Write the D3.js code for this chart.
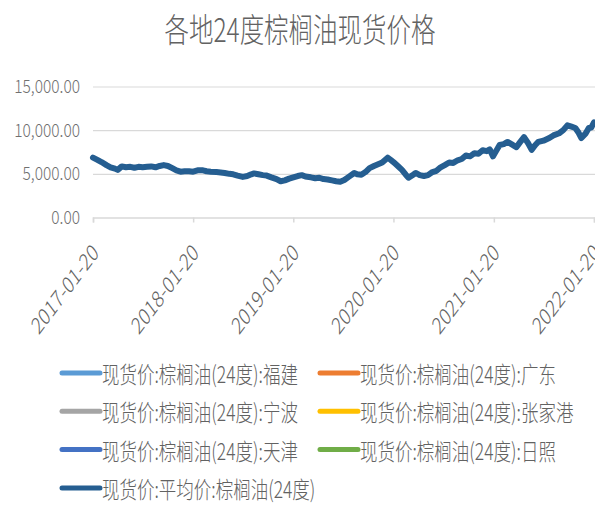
<!DOCTYPE html>
<html><head><meta charset="utf-8">
<script src="https://cdn.jsdelivr.net/npm/d3@7"></script>
<style>
html,body{margin:0;padding:0;background:#fff;}
svg{display:block;font-family:"Noto Sans CJK SC","Noto Sans",sans-serif;}
</style></head>
<body><svg id="c" width="595" height="521"></svg>
<script>
const title = "各地24度棕榈油现货价格";
const yTicks = [0, 5000, 10000, 15000];
const xTickDates = ["2017-01-20","2018-01-20","2019-01-20","2020-01-20","2021-01-20","2022-01-20"];
const seriesNames = [
  "现货价:棕榈油(24度):福建","现货价:棕榈油(24度):广东",
  "现货价:棕榈油(24度):宁波","现货价:棕榈油(24度):张家港",
  "现货价:棕榈油(24度):天津","现货价:棕榈油(24度):日照",
  "现货价:平均价:棕榈油(24度)"
];
const seriesColors = ["#5B9BD5","#ED7D31","#A5A5A5","#FFC000","#4472C4","#70AD47","#255E91"];
const avgDates = [
"2017-01-20","2017-02-05","2017-02-20","2017-03-10","2017-03-25","2017-04-10","2017-04-20","2017-05-05","2017-05-20","2017-06-05","2017-06-20","2017-07-05","2017-07-20","2017-08-05","2017-08-20","2017-09-05","2017-09-20","2017-10-05","2017-10-20","2017-11-05","2017-11-20","2017-12-05","2017-12-20",
"2018-01-05","2018-01-20","2018-02-05","2018-02-25","2018-03-10","2018-03-25","2018-04-15","2018-04-30","2018-05-15","2018-06-01","2018-06-15","2018-07-01","2018-07-20","2018-08-05","2018-08-20","2018-08-30","2018-09-15","2018-10-01","2018-10-15","2018-11-01","2018-11-20","2018-12-05","2018-12-20",
"2019-01-05","2019-01-20","2019-02-05","2019-02-20","2019-03-05","2019-03-25","2019-04-10","2019-04-25","2019-05-10","2019-05-25","2019-06-10","2019-06-25","2019-07-10","2019-07-25","2019-08-10","2019-08-30","2019-09-10","2019-09-25","2019-10-10","2019-10-25","2019-11-10","2019-11-25","2019-12-10","2019-12-30",
"2020-01-10","2020-01-20","2020-02-05","2020-02-20","2020-03-05","2020-03-15","2020-04-01","2020-04-10","2020-04-25","2020-05-10","2020-05-25","2020-06-10","2020-06-25","2020-07-10","2020-07-25","2020-08-10","2020-08-25","2020-09-10","2020-09-25","2020-10-10","2020-10-25","2020-11-10","2020-11-25","2020-12-10","2020-12-25",
"2021-01-05","2021-01-17","2021-01-28","2021-02-10","2021-02-25","2021-03-11","2021-03-25","2021-04-12","2021-04-25","2021-05-10","2021-05-25","2021-06-07","2021-06-20","2021-07-01","2021-07-20","2021-08-10","2021-08-25","2021-09-15","2021-09-30","2021-10-15","2021-10-30","2021-11-13","2021-11-25","2021-12-05","2021-12-20",
"2022-01-01","2022-01-10","2022-01-20"];
const avgValues = [
6850,6600,6350,6000,5750,5600,5450,5850,5750,5800,5700,5800,5750,5800,5850,5750,5900,6000,5900,5650,5400,5250,5300,
5300,5250,5400,5400,5300,5250,5200,5150,5100,5000,4950,4800,4650,4750,4950,5050,4950,4850,4800,4600,4400,4150,4250,
4450,4600,4750,4850,4700,4600,4500,4550,4400,4350,4250,4150,4100,4300,4650,5100,4950,4900,5200,5650,5900,6100,6300,6850,
6600,6350,5900,5450,4900,4550,4900,5100,4850,4750,4850,5200,5350,5750,6000,6300,6250,6550,6700,7100,7000,7350,7300,7700,7600,
7800,7000,7600,8300,8400,8650,8400,8050,8600,9200,8500,7750,8300,8650,8800,9100,9400,9650,10000,10550,10400,10250,9700,9100,9600,
10250,10300,10900];

const svg = d3.select("#c");
const parse = d3.timeParse("%Y-%m-%d");
const L = 93, R = 594, Y0 = 217.5, Y1 = 86.5;
const x = d3.scaleTime().domain([parse(xTickDates[0]), parse(xTickDates[xTickDates.length-1])]).range([L, R]);
const y = d3.scaleLinear().domain([0, 15000]).range([Y0, Y1]);
const SY = 1.33;
const TXT = "#626262";

// title
svg.append("text").attr("transform", `translate(300,28) scale(1,${SY})`)
  .attr("text-anchor","middle").attr("dominant-baseline","central")
  .attr("font-size", 24.5).attr("font-weight", 300).attr("fill", TXT).text(title);

// gridlines
const grid = svg.append("g").attr("transform", `translate(${L},0)`)
  .call(d3.axisLeft(y).tickValues(yTicks.slice(1)).tickSize(-(595 - L)).tickFormat(""));
grid.select(".domain").remove();
grid.selectAll("line").attr("stroke","#d9d9d9").attr("stroke-width",1.2);

// y axis labels
const ya = svg.append("g").attr("transform", `translate(${L},0)`)
  .call(d3.axisLeft(y).tickValues(yTicks).tickSize(0).tickPadding(13).tickFormat(d3.format(",.2f")));
ya.select(".domain").remove();
ya.selectAll("text").attr("font-size", 15.5).attr("fill","#707070").attr("font-weight", 300)
  .attr("font-family",'"Noto Sans CJK SC",sans-serif').attr("transform", "scale(1,1.2)");

// x axis
const xa = svg.append("g").attr("transform", `translate(0,${Y0})`)
  .call(d3.axisBottom(x).tickValues(xTickDates.map(parse)).tickSize(5).tickFormat(d3.timeFormat("%Y-%m-%d")));
xa.select(".domain").attr("stroke","#d9d9d9").attr("stroke-width",1.5);
xa.selectAll(".tick line").attr("stroke","#d9d9d9").attr("stroke-width",1.5);
xa.selectAll("text").attr("x",0).attr("y",0).attr("dy","0.35em")
  .attr("text-anchor","end").attr("font-size",17.5).attr("fill",TXT).attr("font-weight", 300)
  .attr("font-family",'"Noto Sans CJK SC",sans-serif')
  .attr("transform", `translate(2,31) scale(1,${SY}) rotate(-45)`);

// line
const avg = avgDates.map((d,i)=>({date: parse(d), v: avgValues[i]}));
svg.append("path").datum(avg)
  .attr("fill","none").attr("stroke", seriesColors[6]).attr("stroke-width",6)
  .attr("stroke-linejoin","round").attr("stroke-linecap","round")
  .attr("d", d3.line().x(d=>x(d.date)).y(d=>y(d.v)));

// legend
const lg = svg.append("g");
seriesNames.forEach((n,i)=>{
  const col = i % 2, row = Math.floor(i/2);
  const lx = col === 0 ? 62 : 320;
  const ly = 373 + row * 38.3;
  lg.append("line").attr("x1", lx).attr("x2", lx+38).attr("y1", ly).attr("y2", ly)
    .attr("stroke", seriesColors[i]).attr("stroke-width", 5).attr("stroke-linecap","round");
  lg.append("text").attr("transform", `translate(${lx+40},${ly}) scale(1,${SY})`)
    .attr("dominant-baseline","central").attr("font-size",17.5).attr("font-weight", 300)
    .attr("fill",TXT).text(n);
});
</script></body></html>
